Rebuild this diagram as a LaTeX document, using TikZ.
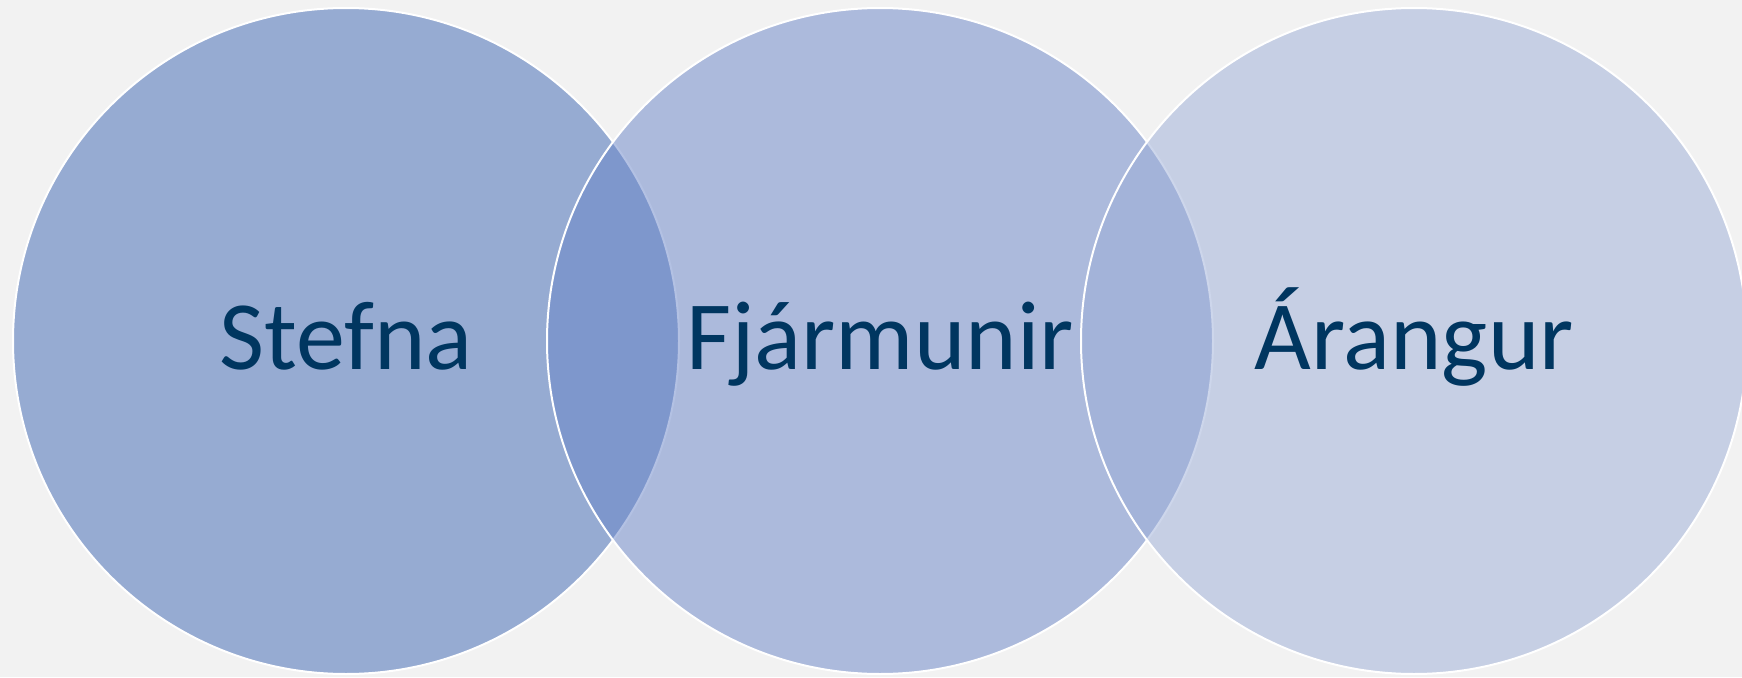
\documentclass[tikz,border=0pt]{standalone}
\usepackage{fontspec}
\setmainfont{Carlito}
\usepackage{xcolor}
\definecolor{bgGray}{RGB}{242,242,242}
\definecolor{vennA}{RGB}{60,102,180}
\definecolor{vennB}{RGB}{104,132,200}
\definecolor{vennC}{RGB}{156,174,216}
\definecolor{vennText}{RGB}{0,54,96}
\begin{document}
\begin{tikzpicture}[x=0.5pt,y=0.5pt,
    vennset/.style={draw=white, line width=1pt, fill opacity=0.5},
    vennlabel/.style={anchor=base, inner sep=0pt, text=vennText, font=\fontsize{49}{58}\selectfont}]
				\fill[bgGray] (0,0) rectangle (1742,677);
				\clip (0,0) rectangle (1742,677);
				
				\foreach \x/\col in {346/vennA, 880/vennB, 1414/vennC}
				{
					\draw[vennset, fill=\col] (\x,336) circle (333);
				}
				
				\node[vennlabel] (stefna) at (346,308) {Stefna};
				\node[vennlabel] (fjarmunir) at (880,308) {Fjármunir};
				\node[vennlabel] (arangur) at (1414,308) {Árangur};
			\end{tikzpicture}
\end{document}
